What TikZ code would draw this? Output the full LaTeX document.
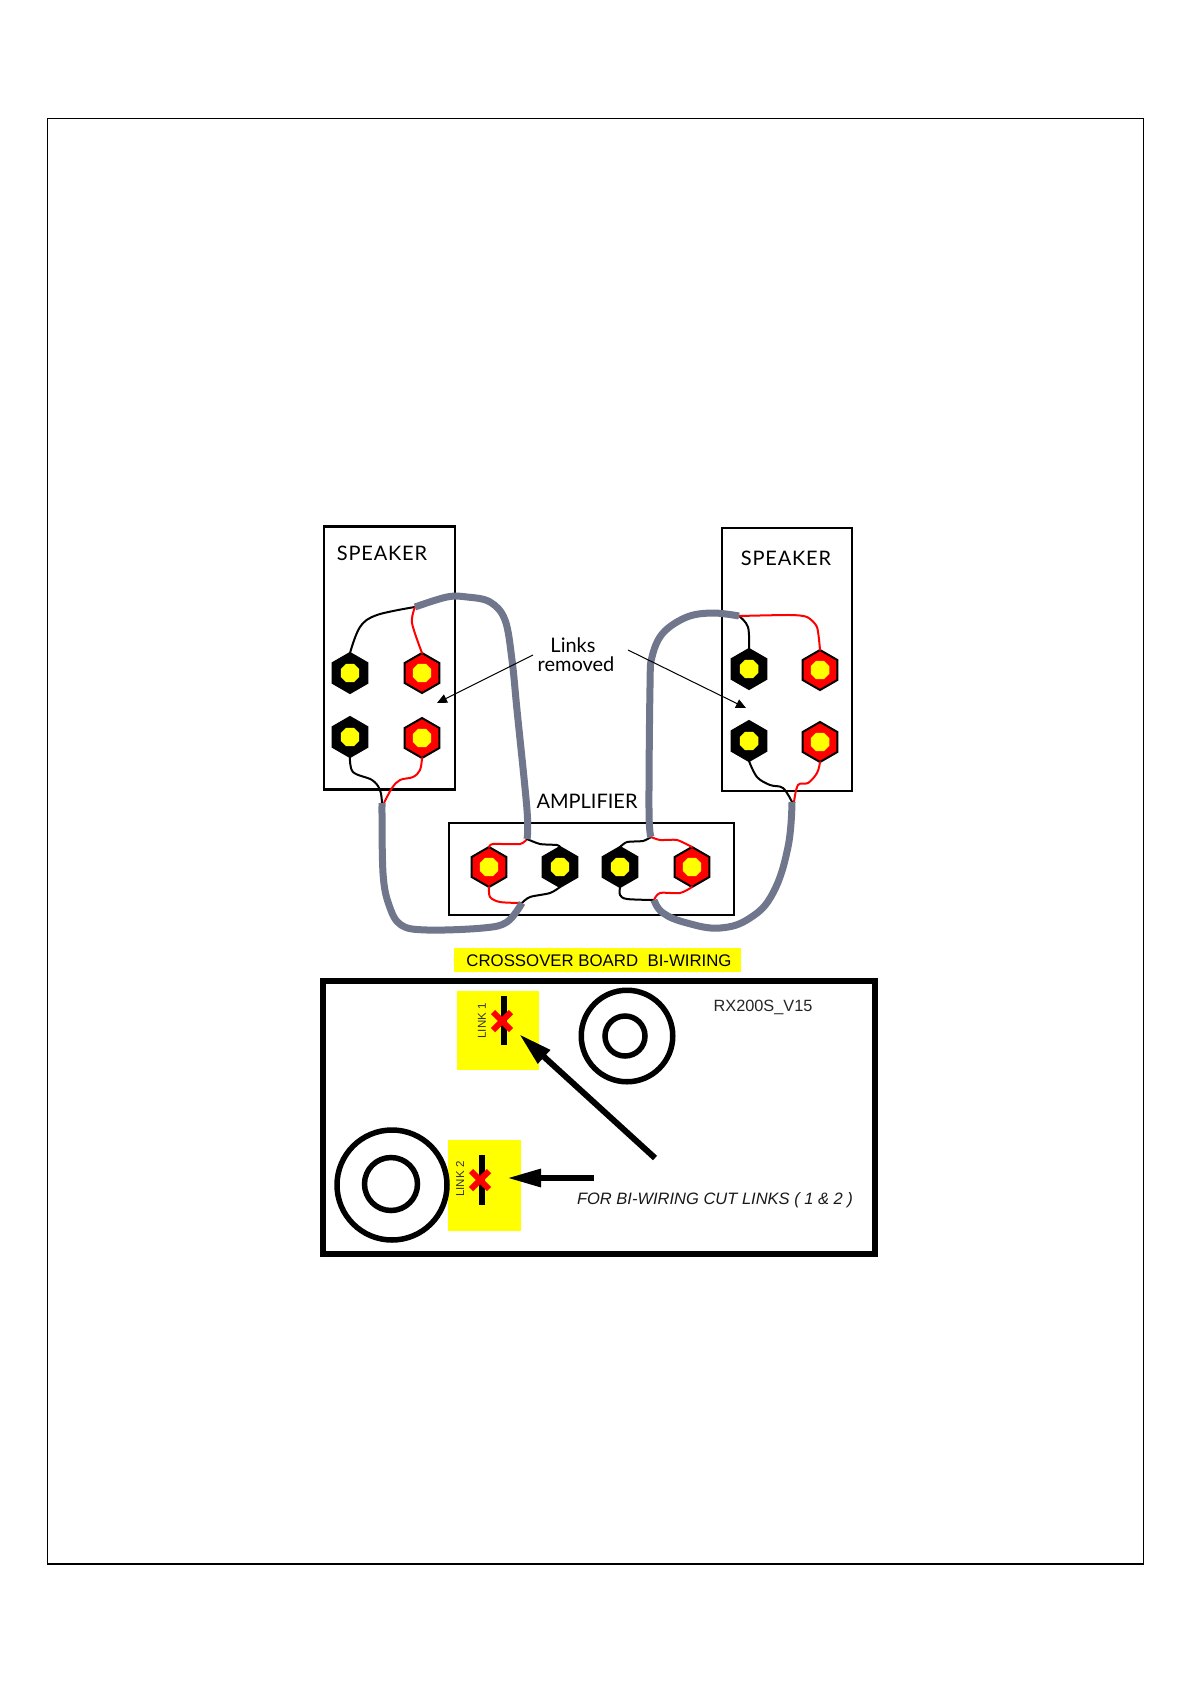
\documentclass[tikz,border=0pt]{standalone}
\usepackage{fontspec}
\setmainfont{Liberation Sans}
\newfontfamily\hand{Lato}
\newfontfamily\handw[LetterSpace=4]{Lato}
\usetikzlibrary{shapes.geometric,arrows.meta}
\definecolor{cable}{HTML}{70768C}
\definecolor{yel}{HTML}{FFFF00}
\tikzset{
  every node/.append style={outer sep=0pt},
  spk/.style={draw=black,line width=2.5pt,fill=none},
  amp/.style={draw=black,line width=2.2pt,fill=none},
  cablew/.style={draw=cable,line width=7pt,line cap=butt,line join=round},
  blk/.style={draw=black,line width=2pt,line cap=round,line join=round},
  rdw/.style={draw=red,line width=2pt,line cap=round,line join=round},
  hexnut/.style={regular polygon,regular polygon sides=6,shape border rotate=30,minimum size=40pt,inner sep=0pt,outer sep=0pt,draw=black,line width=2pt},
  eyenut/.style={regular polygon,regular polygon sides=8,minimum size=20pt,inner sep=0pt,outer sep=0pt,fill=yel},
  handtxt/.style={font=\handw\fontsize{20}{20}\selectfont,inner sep=0pt},
  handlow/.style={font=\hand\fontsize{20}{20}\selectfont,inner sep=0pt},
  yelbox/.style={fill=yel,draw=none,inner sep=0pt,outer sep=0pt},
  ring/.style={circle,draw=black,fill=none,inner sep=0pt,outer sep=0pt},
  linkbar/.style={draw=black,line width=6pt},
  redcross/.style={draw=red,line width=6pt},
  thinarrow/.style={draw=black,line width=1pt,-{Triangle[length=10pt,width=9pt]}},
  fatarrow/.style={draw=black,line width=6pt,-{Triangle[length=34pt,width=17pt]}},
}
\newcommand{\nutnode}[3]{%
  \node[hexnut,fill=#3] (nut#1) at (#2) {};%
  \node[eyenut] (eye#1) at (#2) {};%
}
\begin{document}
\begin{tikzpicture}[x=1pt,y=-1pt]
\useasboundingbox (0,0) rectangle (1191,1685);
\fill[white] (0,0) rectangle (1191,1685);
\node[draw=black,line width=1.3pt,minimum width=1096pt,minimum height=1445.7pt,inner sep=0pt,anchor=north west] (page) at (47.3,118.3) {};

% boxes
\node[spk,minimum width=131pt,minimum height=263pt,anchor=north west,inner sep=0pt] (spkL) at (324,526.5) {};
\node[spk,minimum width=130pt,minimum height=263pt,anchor=north west,inner sep=0pt] (spkR) at (722,528) {};
\node[amp,minimum width=285pt,minimum height=92pt,anchor=north west,inner sep=0pt] (ampbox) at (449,823) {};

\node[handtxt] (t1) at (382,553) {SPEAKER};
\node[handtxt] (t2) at (786,558) {SPEAKER};
\node[handlow] (t3) at (587,801) {AMPLIFIER};
\node[handlow] (t4) at (573,645) {Links};
\node[handlow] (t5) at (576,664) {removed};

% junction coordinates
\coordinate (jLt) at (415,607);
\coordinate (jLb) at (382,803);
\coordinate (jRt) at (739,616);
\coordinate (jRb) at (792,802);
\coordinate (jAone) at (527,839);
\coordinate (jAtwo) at (522,903);
\coordinate (jAthree) at (651,837);
\coordinate (jAfour) at (654,900);

\nutnode{A}{350,673}{black}
\nutnode{B}{422,673}{red}
\nutnode{C}{350,737}{black}
\nutnode{D}{422,738}{red}
\nutnode{E}{749,669}{black}
\nutnode{F}{820,670}{red}
\nutnode{G}{749,741}{black}
\nutnode{H}{820,742}{red}
\nutnode{I}{489,867}{red}
\nutnode{J}{560,867}{black}
\nutnode{K}{620,867}{black}
\nutnode{L}{692,867}{red}

% thin wires
\draw[blk] plot[smooth,tension=0.6] coordinates {(jLt) (377,615) (360,627) (nutA.north)};
\draw[rdw] plot[smooth,tension=0.5] coordinates {(jLt) (412,623) (nutB.north)};
\draw[blk] plot[smooth,tension=0.6] coordinates {(nutC.south) (353,772) (372,780) (380,790) (jLb)};
\draw[rdw] plot[smooth,tension=0.6] coordinates {(nutD.south) (420,770) (413,777) (400,780) (392,788) (384,803)};
\draw[blk] plot[smooth,tension=0.6] coordinates {(jRt) (748,627) (nutE.north)};
\draw[rdw] plot[smooth,tension=0.4] coordinates {(jRt) (790,615) (807,617) (817,627) (nutF.north)};
\draw[blk] plot[smooth,tension=0.6] coordinates {(nutG.south) (757,777) (770,785) (783,788) (jRb)};
\draw[rdw] plot[smooth,tension=0.6] coordinates {(nutH.south) (817,773) (808,783) (798,785) (794,802)};
\draw[rdw] plot[smooth,tension=0.4] coordinates {(jAone) (520,844) (493,844) (nutI.north)};
\draw[blk] plot[smooth,tension=0.4] coordinates {(jAone) (540,844) (557,845) (nutJ.north)};
\draw[rdw] plot[smooth,tension=0.5] coordinates {(nutI.south) (490,897) (500,902) (jAtwo)};
\draw[blk] plot[smooth,tension=0.5] coordinates {(nutJ.south) (550,893) (530,897) (jAtwo)};
\draw[blk] plot[smooth,tension=0.4] coordinates {(jAthree) (643,841) (627,842) (nutK.north)};
\draw[rdw] plot[smooth,tension=0.4] coordinates {(jAthree) (660,840) (677,840) (nutL.north)};
\draw[blk] plot[smooth,tension=0.5] coordinates {(nutK.south) (620,895) (627,899) (jAfour)};
\draw[rdw] plot[smooth,tension=0.5] coordinates {(nutL.south) (680,893) (660,893) (jAfour)};

% cables
\draw[cablew] plot[smooth,tension=0.6] coordinates {(jLt) (447,597) (467,597) (490,602) (505,620) (512,660) (517,710) (527,810) (jAone)};
\draw[cablew] plot[smooth,tension=0.6] coordinates {(jLb) (383,873) (389,905) (401,925) (427,930) (483,928) (507,922) (jAtwo)};
\draw[cablew] plot[smooth,tension=0.6] coordinates {(jRt) (713,613) (687,617) (663,633) (652,657) (650,687) (649,810) (jAthree)};
\draw[cablew] plot[smooth,tension=0.7] coordinates {(jRb) (788,847) (773,893) (750,918) (720,928) (687,923) (663,913) (jAfour)};

% thin arrows
\coordinate (aones) at (533,655);
\coordinate (aonee) at (437,703);
\coordinate (atwos) at (628,650);
\coordinate (atwoe) at (746,708);
\draw[thinarrow] (aones) -- (aonee);
\draw[thinarrow] (atwos) -- (atwoe);

% crossover
\node[yelbox,minimum width=287pt,minimum height=24pt,anchor=north west] (cbox) at (454,948) {};
\node[inner sep=0pt,font=\fontsize{16.8}{18}\selectfont] (ctxt) at (599,961) {CROSSOVER BOARD\ \ BI-WIRING};
\node[draw=black,line width=6.5pt,minimum width=552pt,minimum height=273pt,anchor=north west,inner sep=0pt] (board) at (323,981) {};

\node[yelbox,minimum width=82pt,minimum height=79pt,anchor=north west] (linkone) at (457,991) {};
\node[yelbox,minimum width=73pt,minimum height=91pt,anchor=north west] (linktwo) at (448,1140) {};

\coordinate (baronea) at (504,996); \coordinate (baroneb) at (504,1045);
\coordinate (bartwoa) at (482,1155); \coordinate (bartwob) at (482,1205);
\draw[linkbar] (baronea) -- (baroneb);
\draw[linkbar] (bartwoa) -- (bartwob);
\coordinate (xone) at (502,1021);
\coordinate (xtwo) at (480,1180);
\draw[redcross] ([shift={(-9,-9)}]xone) -- ([shift={(9,9)}]xone) ([shift={(9,-9)}]xone) -- ([shift={(-9,9)}]xone);
\draw[redcross] ([shift={(-9,-9)}]xtwo) -- ([shift={(9,9)}]xtwo) ([shift={(9,-9)}]xtwo) -- ([shift={(-9,9)}]xtwo);

\node[rotate=90,inner sep=0pt,text=black!80,font=\fontsize{11.5}{12}\selectfont] (t6) at (482,1021) {LINK 1};
\node[rotate=90,inner sep=0pt,text=black!80,font=\fontsize{11.5}{12}\selectfont] (t7) at (460,1179) {LINK 2};

\node[ring,line width=5.5pt,minimum size=91.5pt] (rone) at (627,1036) {};
\node[ring,line width=5.5pt,minimum size=40pt] (rtwo) at (625,1036) {};
\node[ring,line width=5.5pt,minimum size=110pt] (rthree) at (392,1185) {};
\node[ring,line width=5.5pt,minimum size=53pt] (rfour) at (391,1184) {};

\coordinate (fones) at (655,1158);
\coordinate (fonee) at (519,1034);
\coordinate (ftwos) at (594,1178);
\coordinate (ftwoe) at (507,1178);
\draw[fatarrow] (fones) -- (fonee);
\draw[fatarrow] (ftwos) -- (ftwoe);

\node[inner sep=0pt,text=black!85,font=\fontsize{16.3}{18}\selectfont] (t8) at (763,1007.5) {RX200S\_V15};
\node[inner sep=0pt,text=black!90,font=\fontsize{16.5}{18}\selectfont\itshape] (t9) at (715,1200) {FOR BI-WIRING CUT LINKS ( 1 \& 2 )};
\end{tikzpicture}
\end{document}
